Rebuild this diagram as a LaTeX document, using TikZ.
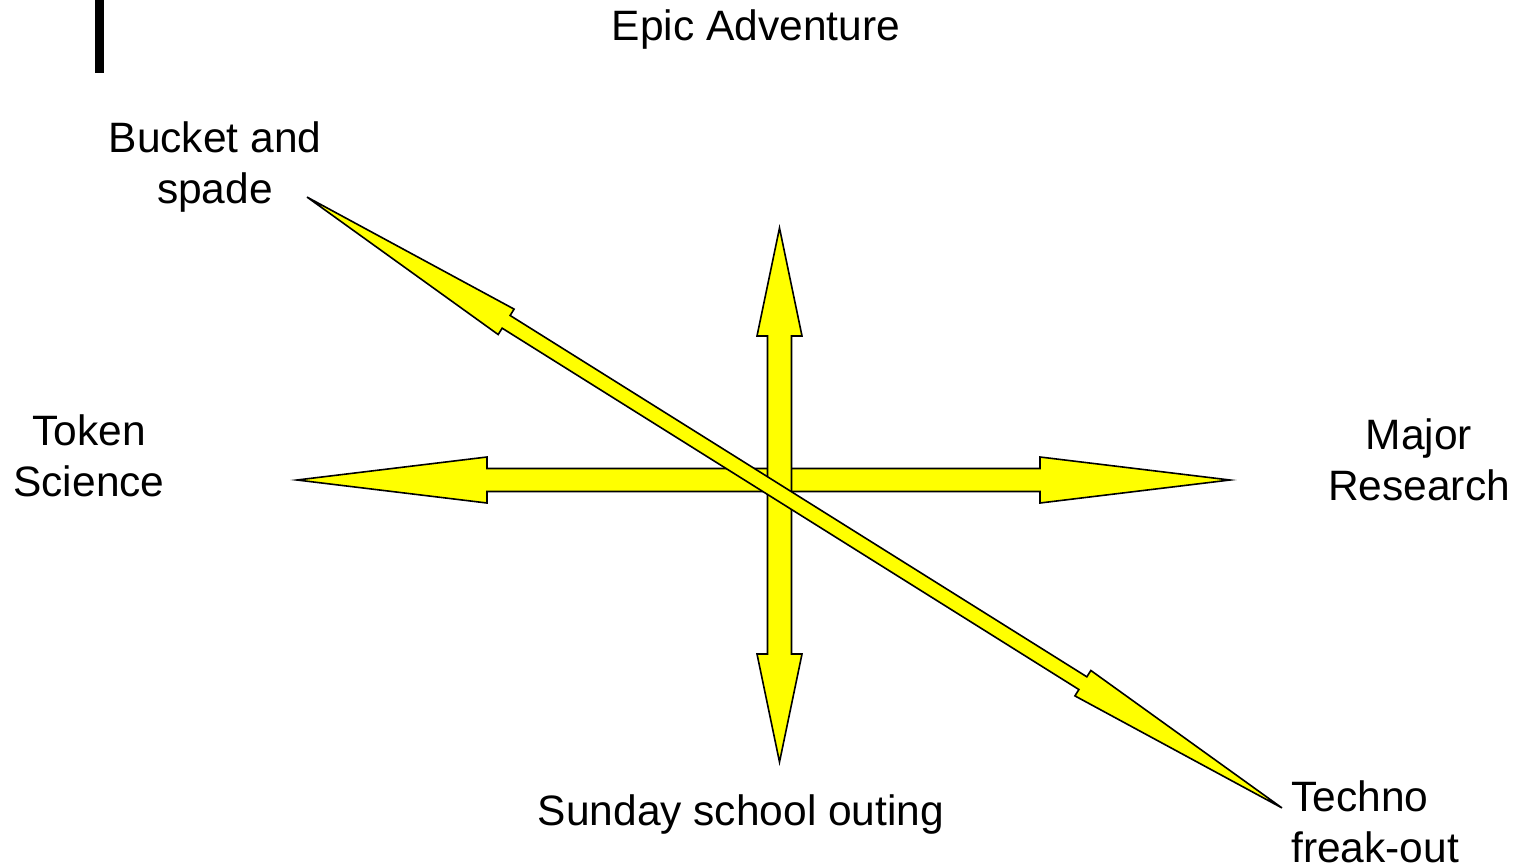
\documentclass[tikz,border=0pt]{standalone}
\usepackage{fontspec}
\setmainfont{Liberation Sans}
\definecolor{arrowyellow}{RGB}{255,255,0}
\begin{document}
\begin{tikzpicture}[x=1pt,y=-1pt,
  blockarrow/.style={draw=black,fill=arrowyellow,line width=1.6pt,line join=miter},
  lbl/.style={inner sep=0pt,anchor=base,align=center,font=\fontsize{42.5}{51}\selectfont},
  lbll/.style={lbl,align=left,anchor=base west}]
\useasboundingbox (0,0) rectangle (1517,867);
\newcommand\dblarrow[7]{%
  \begin{scope}[shift={(#1,#2)},rotate=#3]
    \draw[blockarrow] (-#4,0) -- (-#4+#5,#6) -- (-#4+#5,#7) -- (#4-#5,#7) -- (#4-#5,#6)
      -- (#4,0) -- (#4-#5,-#6) -- (#4-#5,-#7) -- (-#4+#5,-#7) -- (-#4+#5,-#6) -- cycle;
  \end{scope}}
% left bar
\fill[black] (95,0) rectangle (104,73);
% horizontal
\dblarrow{763.5}{480}{0}{466.5}{190}{23}{11.5}
% vertical
\dblarrow{779.5}{495}{90}{267}{108}{22.5}{12}
% diagonal
\dblarrow{794.5}{502.5}{-32.07}{575.3}{235}{15}{7.5}
% labels
\node[lbl] (epic) at (756,41) {Epic Adventure};
\node[lbl] (bucket) at (215,203) {Bucket and\\spade};
\node[lbl] (token) at (89,496) {Token\\Science};
\node[lbl] (major) at (1419,500) {Major\\Research};
\node[lbl] (sunday) at (741,825) {Sunday school outing};
\node[lbll] (techno) at (1291,862) {Techno\\freak-out};
\end{tikzpicture}
\end{document}
